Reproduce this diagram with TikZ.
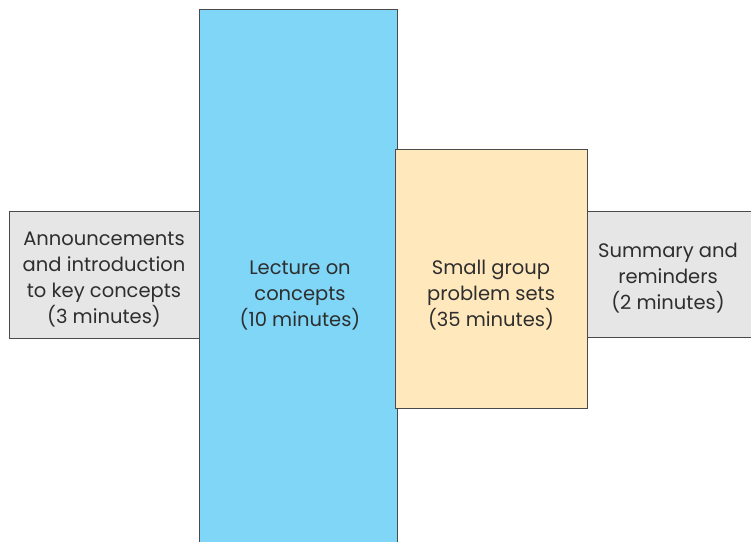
\documentclass[tikz,border=0pt]{standalone}
\usepackage{fontspec}
\setmainfont{Poppins}
\definecolor{boxgray}{HTML}{E6E6E6}
\definecolor{lectblue}{HTML}{7FD6F7}
\definecolor{groupyel}{HTML}{FFE8BC}
\definecolor{edge}{HTML}{4A4A4A}
\definecolor{txt}{HTML}{2E2E2E}
\begin{document}
\begin{tikzpicture}[x=1pt,y=1pt,
  seg/.style={draw=edge, line width=1pt, rectangle, inner sep=0pt, anchor=north west},
  lbl/.style={text=txt, align=center, font=\fontsize{19.5}{26}\selectfont, inner sep=0pt}]
\useasboundingbox (0,0) rectangle (751,-541);
\clip (0,0) rectangle (751,-541);
\fill[white] (0,0) rectangle (751,-541);
\node[seg, fill=boxgray, minimum width=191pt, minimum height=127pt] (intro) at (9,-211) {};
\node[seg, fill=boxgray, minimum width=180pt, minimum height=126pt] (summ) at (587,-211) {};
\node[seg, fill=lectblue, minimum width=198pt, minimum height=560pt] (lect) at (199,-9) {};
\node[seg, fill=groupyel, minimum width=192pt, minimum height=259pt] (group) at (395,-149) {};
\node[lbl] (introtxt) at (104,-280) {Announcements\\and introduction\\to key concepts\\(3 minutes)};
\node[lbl] (lecttxt) at (300,-296) {Lecture on\\concepts\\(10 minutes)};
\node[lbl] (grouptxt) at (491,-295) {Small group\\problem sets\\(35 minutes)};
\node[lbl] (summtxt) at (668,-278) {Summary and\\reminders\\(2 minutes)};
\end{tikzpicture}
\end{document}
